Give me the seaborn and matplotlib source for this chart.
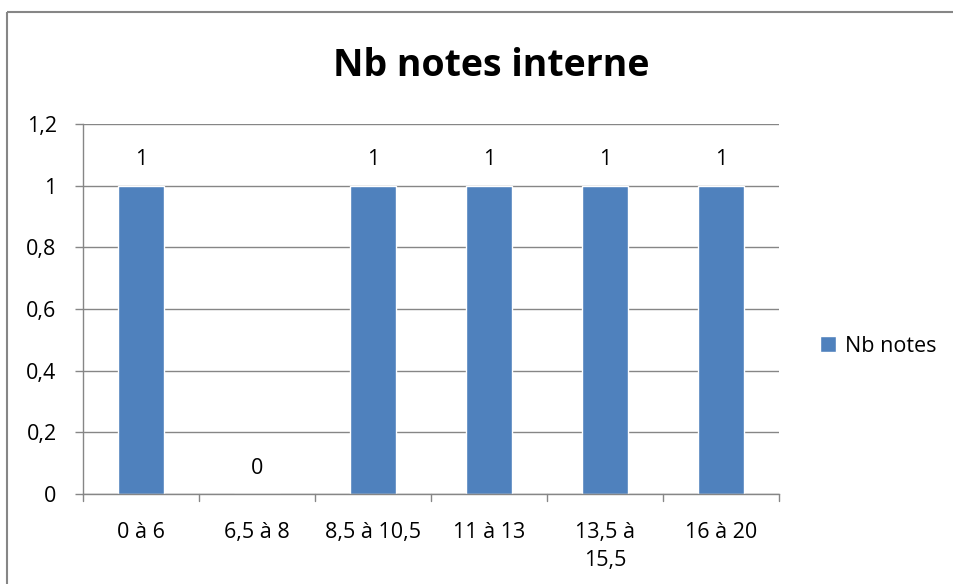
import matplotlib
matplotlib.use("Agg")
import matplotlib.pyplot as plt
import seaborn as sns
import pandas as pd
from matplotlib.lines import Line2D

categories = ["0 à 6", "6,5 à 8", "8,5 à 10,5", "11 à 13", "13,5 à\n15,5", "16 à 20"]
values = [1, 0, 1, 1, 1, 1]
yticks = [0, 0.2, 0.4, 0.6, 0.8, 1.0, 1.2]
ytick_labels = ["0", "0,2", "0,4", "0,6", "0,8", "1", "1,2"]
series_name = "Nb notes"
title = "Nb notes interne"

sns.set_theme(style="white")
plt.rcParams['font.family'] = ['Open Sans', 'DejaVu Sans']
plt.rcParams['text.color'] = 'black'
plt.rcParams['xtick.color'] = 'black'
plt.rcParams['ytick.color'] = 'black'

FS = 15.5

df = pd.DataFrame({"cat": categories, "val": values, "series": series_name})

fig = plt.figure(figsize=(9.54, 5.84), dpi=100)
ax = fig.add_axes([83/954, 1-494/584, (779-83)/954, (494-124)/584])

bar_color = "#4F81BD"
sns.barplot(data=df, x="cat", y="val", hue="series", palette=[bar_color],
            width=0.4, ax=ax, saturation=1, legend=True)

ax.set_ylim(0, 1.2)
ax.set_xlim(-0.5, len(categories) - 0.5)
ax.set_yticks(yticks)
ax.set_yticklabels(ytick_labels, fontsize=FS)
ax.set_xlabel("")
ax.set_ylabel("")
ax.tick_params(axis='x', length=0, pad=20)
ax.tick_params(axis='y', length=6, width=1, color="#868686", pad=13, left=True)

ax.set_xticks([i for i in range(len(categories))])
ax.set_xticklabels(categories, fontsize=FS, linespacing=1.45, va='top')
for b in [i - 0.5 for i in range(len(categories) + 1)]:
    ax.plot([b, b], [0, -0.024], color="#868686", lw=1, clip_on=False)

ax.grid(axis='y', color="#868686", linewidth=1)
ax.grid(axis='x', visible=False)
ax.set_axisbelow(True)
for s in ["top", "right"]:
    ax.spines[s].set_visible(False)
for s in ["left", "bottom"]:
    ax.spines[s].set_color("#868686")
    ax.spines[s].set_linewidth(1)

for i, v in enumerate(values):
    ax.annotate(f"{v}", (i, v), xytext=(0, 11), textcoords="offset points",
                ha="center", va="bottom", fontsize=FS, color="black")

fig.suptitle(title, x=491/954, y=1-66/584, va="center", fontsize=27,
             fontweight="bold", color="black")

leg = ax.legend(loc="center left", bbox_to_anchor=(820/954, 1-346/584),
                bbox_transform=fig.transFigure, frameon=False, fontsize=FS,
                handlelength=0.75, handleheight=0.75, handletextpad=0.4,
                borderpad=0, borderaxespad=0)

# outer chart border (only top and left visible within the image)
fig.lines.append(Line2D([7/954, 1.05], [1 - 12/584, 1 - 12/584],
                        transform=fig.transFigure, color="#868686", linewidth=1.5,
                        solid_capstyle="butt"))
fig.lines.append(Line2D([7/954, 7/954], [-0.05, 1 - 12/584],
                        transform=fig.transFigure, color="#868686", linewidth=1.5,
                        solid_capstyle="butt"))

fig.savefig("out.png", dpi=100)
